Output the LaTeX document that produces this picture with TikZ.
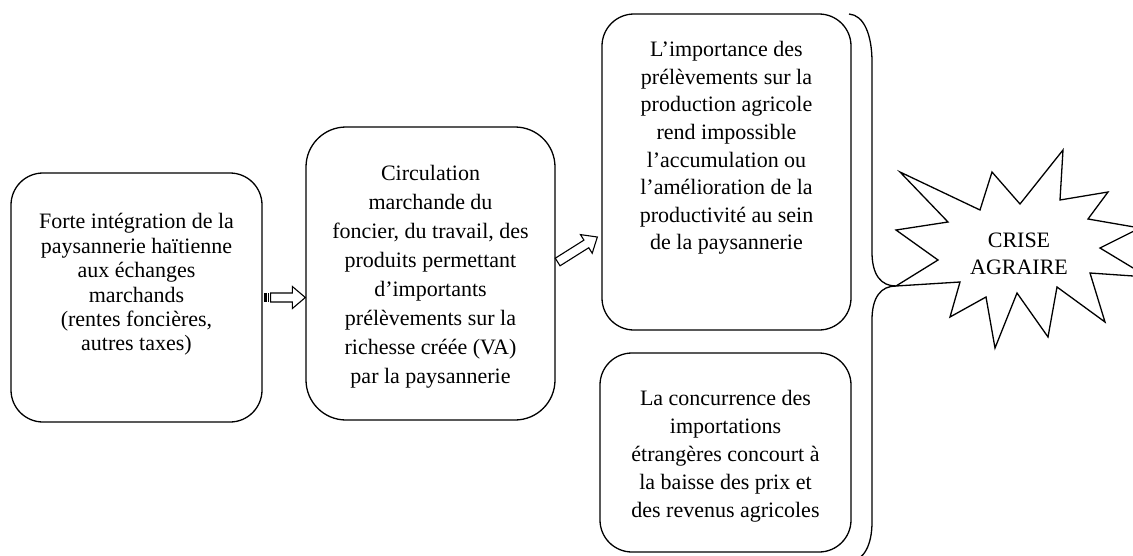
\documentclass[tikz,border=0pt]{standalone}
\usepackage{fontspec}
\setmainfont{Liberation Serif}
\usetikzlibrary{calc}

\tikzset{
  box/.style={draw, line width=1.3pt, rounded corners=32pt},
  txt/.style={align=center, inner sep=0pt},
  blockarr/.style={draw, line width=1.1pt, fill=white, line join=miter},
  thickline/.style={line width=1.3pt}
}

% block arrow from #1 to #2
\newcommand{\blockarrow}[2]{%
  \coordinate (ba-m) at ($(#2)!13pt!(#1)$);
  \draw[blockarr] ($(#1)!4.5pt!90:(#2)$) -- ($(ba-m)!4.5pt!-90:(#1)$)
    -- ($(ba-m)!11pt!-90:(#1)$) -- (#2) -- ($(ba-m)!11pt!90:(#1)$)
    -- ($(ba-m)!4.5pt!90:(#1)$) -- ($(#1)!4.5pt!-90:(#2)$) -- cycle;
}

\begin{document}
\begin{tikzpicture}[x=1pt, y=-1pt, font=\fontsize{22}{28}\selectfont]
    \clip (0,0) rectangle (1133,555);
    \fill[white] (0,0) rectangle (1133,555);

    % Boxes
    \node[box, minimum width=251pt, minimum height=249pt] (b1) at (136.5,297.5) {};
    \node[box, rounded corners=40pt, minimum width=249pt, minimum height=293pt] (b2) at (430.5,273.5) {};
    \node[box, minimum width=249pt, minimum height=316pt] (b3) at (726.5,172) {};
    \node[box, minimum width=251pt, minimum height=199pt] (b4) at (725.5,452.5) {};

    % Texts
    \node[txt, font=\fontsize{22}{24.4}\selectfont] (t1) at ([yshift=13pt]b1.center)
      {Forte intégration de la\\paysannerie haïtienne\\aux échanges\\marchands\\(rentes foncières,\\autres taxes)};
    \node[txt, font=\fontsize{22}{29}\selectfont] (t2) at ([yshift=-3pt]b2.center)
      {Circulation\\marchande du\\foncier, du travail, des\\produits permettant\\d'importants\\prélèvements sur la\\richesse créée (VA)\\par la paysannerie};
    \node[txt, font=\fontsize{22}{27.6}\selectfont] (t3) at ([yshift=24pt]b3.center)
      {L'importance des\\prélèvements sur la\\production agricole\\rend impossible\\l'accumulation ou\\l'amélioration de la\\productivité au sein\\de la paysannerie};
    \node[txt, font=\fontsize{22}{28}\selectfont] (t4) at ([yshift=-3.5pt]b4.center)
      {La concurrence des\\importations\\étrangères concourt à\\la baisse des prix et\\des revenus agricoles};

    % Arrows
    \coordinate (a1s) at (b1.east);
    \coordinate (a1b) at ([xshift=8pt]a1s);
    \coordinate (a1e) at (b2.west |- b1.east);
    \fill ([xshift=1pt,yshift=-4.5pt]a1s) rectangle ([xshift=4.5pt,yshift=4.5pt]a1s);
    \fill ([xshift=5.5pt,yshift=-4.5pt]a1s) rectangle ([xshift=6.8pt,yshift=4.5pt]a1s);
    \blockarrow{a1b}{a1e}
    \coordinate (a2s) at ([xshift=2pt,yshift=11.5pt]b2.east);
    \coordinate (a2e) at ([xshift=-4pt,yshift=-65pt]b3.west);
    \blockarrow{a2s}{a2e}

    % Brace
    \coordinate (tip) at (896,286);
    \draw[thickline] (849,14) .. controls (864,15) and (872,35) .. (872,62)
      -- (872,252) .. controls (872,275) and (881,286) .. (tip)
      .. controls (881,286) and (872,297) .. (872,320)
      -- (872,522) .. controls (872,545) and (864,560) .. (850,562);

    % Burst
    \draw[thickline, fill=white, line join=miter] (tip) -- (960,282) -- (950,317) -- (986,297)
      -- (995,348) -- (1017,293) -- (1048,337) -- (1057,287) -- (1105,322)
      -- (1090,273) -- (1148,277) -- (1100,248) -- (1140,228) -- (1088,219)
      -- (1108,192) -- (1060,200) -- (1063,150) -- (1020,204) -- (992,172)
      -- (980,210) -- (900,172) -- (948,222) -- (896,230) -- (938,260) -- cycle;
    \node[txt, font=\fontsize{22}{27}\selectfont] (crise) at (1019,254) {CRISE\\AGRAIRE};
\end{tikzpicture}
\end{document}
